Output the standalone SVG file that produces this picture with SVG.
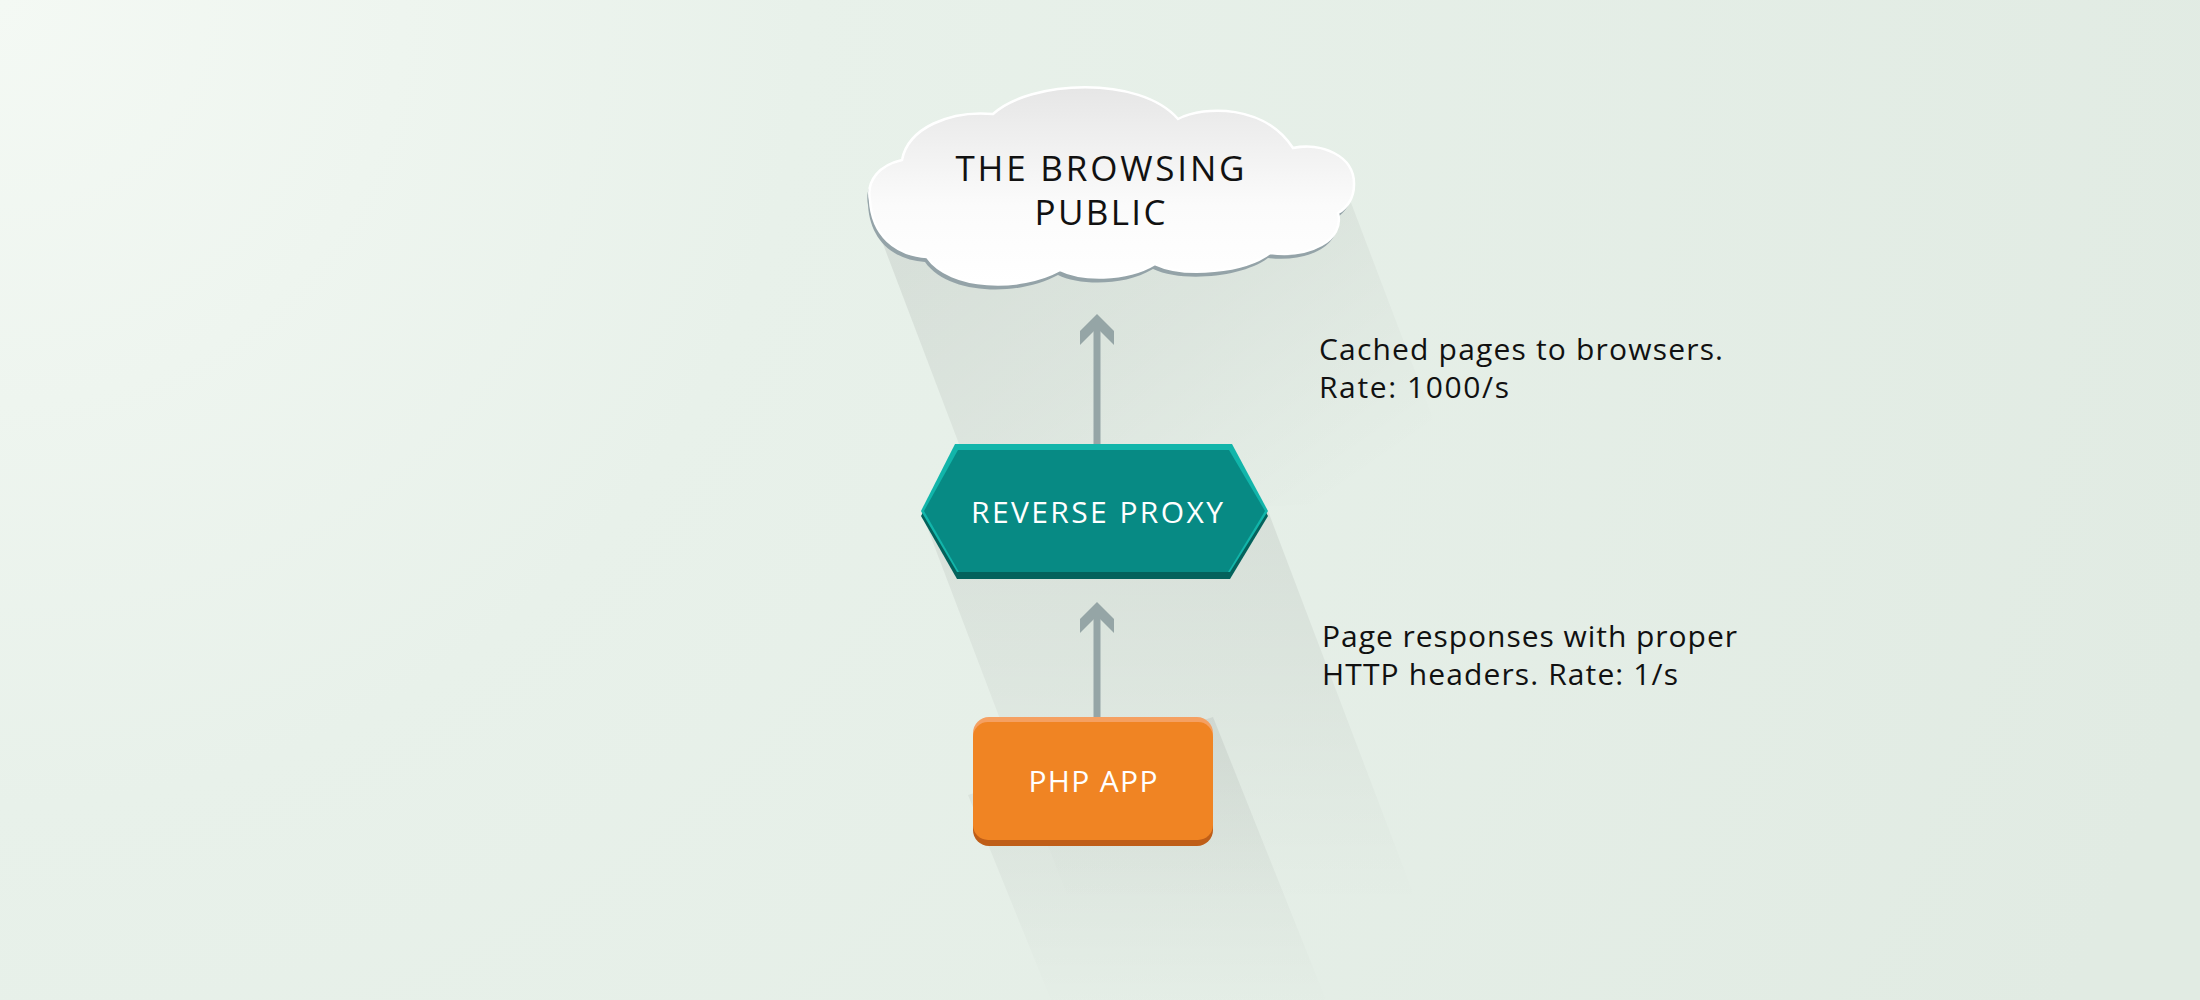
<svg xmlns="http://www.w3.org/2000/svg" width="2200" height="1000" viewBox="0 0 2200 1000">
<defs>
<radialGradient id="bg" cx="0" cy="0" r="2300" gradientUnits="userSpaceOnUse">
<stop offset="0" stop-color="#f4f9f4"/>
<stop offset="0.35" stop-color="#e8f1ea"/>
<stop offset="1" stop-color="#e1ebe3"/>
</radialGradient>
<linearGradient id="shade" x1="0" y1="0" x2="0" y2="1">
<stop offset="0" stop-color="#000" stop-opacity="0.065"/>
<stop offset="0.5" stop-color="#000" stop-opacity="0.035"/>
<stop offset="1" stop-color="#000" stop-opacity="0"/>
</linearGradient>
<linearGradient id="shadeCloud" gradientUnits="userSpaceOnUse" x1="1000" y1="200" x2="1250" y2="560">
<stop offset="0" stop-color="#000" stop-opacity="0.07"/>
<stop offset="0.45" stop-color="#000" stop-opacity="0.045"/>
<stop offset="1" stop-color="#000" stop-opacity="0"/>
</linearGradient>
<linearGradient id="cloudFill" x1="0" y1="0" x2="0" y2="1">
<stop offset="0" stop-color="#e6e6e6"/>
<stop offset="0.6" stop-color="#fbfbfb"/>
<stop offset="1" stop-color="#ffffff"/>
</linearGradient>
<marker id="chev" viewBox="-32 -18 34 36" refX="-8" refY="0" markerWidth="34" markerHeight="36" markerUnits="userSpaceOnUse" orient="auto">
<path d="M0,0 L-17,-17 L-31,-17 L-14,0 L-31,17 L-17,17 Z" fill="#95a5a6"/>
</marker>
<path id="cloudPath" d="M870,200 C866,180 880,165 902,160 C908,128 950,110 993,114 C1030,80 1140,75 1178,119 C1205,105 1265,105 1293,148 C1320,142 1355,155 1354,185 C1354,198 1347,208 1338,213 C1345,240 1310,258 1270,253 C1245,272 1185,278 1155,264 C1125,282 1080,280 1060,270 C1020,292 950,290 927,257 C895,255 872,235 870,200 Z"/>
</defs>
<style>
.lbl{font-family:"Open Sans","Noto Sans","Liberation Sans",sans-serif;font-size:30px;fill:#111;}
.title{font-family:"Open Sans","Noto Sans","Liberation Sans",sans-serif;font-size:35px;fill:#111;text-anchor:middle;}
.wt{font-family:"Open Sans","Noto Sans","Liberation Sans",sans-serif;font-size:30px;fill:#fff;text-anchor:middle;}
.conn{stroke:#95a5a6;stroke-width:7;fill:none;}
.sh{fill:url(#shade);}
</style>
<rect x="0" y="0" width="2200" height="1000" fill="url(#bg)"/>
<g id="shadows">
<polygon fill="url(#shadeCloud)" points="872,215 1350,200 1464,500 986,515"/>
<polygon class="sh" points="921,511 1268,511 1418,906 1071,906"/>
<polygon class="sh" points="968,795 1213,717 1330,1010 1055,1010"/>
</g>
<g id="connectors">
<line class="conn" x1="1097" y1="444" x2="1097" y2="322" marker-end="url(#chev)"/>
<line class="conn" x1="1097" y1="717" x2="1097" y2="610" marker-end="url(#chev)"/>
</g>
<g id="cloud">
<use href="#cloudPath" transform="translate(-2,5)" fill="#94a3a8"/>
<use href="#cloudPath" fill="url(#cloudFill)" stroke="#ffffff" stroke-width="2.5"/>
<text class="title" x="1100" y="181" textLength="289" lengthAdjust="spacing">THE BROWSING</text>
<text class="title" x="1100" y="225" textLength="131" lengthAdjust="spacing">PUBLIC</text>
</g>
<g id="reverse-proxy">
<polygon points="957,450 1232,450 1268,516 1230,579 957,579 921,516" fill="#04625c"/>
<polygon points="955,444 1232,444 1268,511 1230,572 957,572 921,511" fill="#12b5aa"/>
<polygon points="958,450 1229,450 1265,511 1228,572 959,572 924,511" fill="#078a84"/>
<text class="wt" x="1097" y="523" textLength="252" lengthAdjust="spacing">REVERSE PROXY</text>
</g>
<g id="php-app">
<rect x="973" y="724" width="240" height="122" rx="16" fill="#bf5e18"/>
<rect x="973" y="717" width="240" height="120" rx="16" fill="#f5a062"/>
<rect x="973" y="722" width="240" height="118" rx="15" fill="#f08423"/>
<text class="wt" x="1093" y="792" textLength="129" lengthAdjust="spacing">PHP APP</text>
</g>
<g id="labels">
<text class="lbl" x="1319" y="360" textLength="404" lengthAdjust="spacing">Cached pages to browsers.</text>
<text class="lbl" x="1319" y="398" textLength="190" lengthAdjust="spacing">Rate: 1000/s</text>
<text class="lbl" x="1322" y="647" textLength="415" lengthAdjust="spacing">Page responses with proper</text>
<text class="lbl" x="1322" y="685" textLength="356" lengthAdjust="spacing">HTTP headers. Rate: 1/s</text>
</g>
</svg>
